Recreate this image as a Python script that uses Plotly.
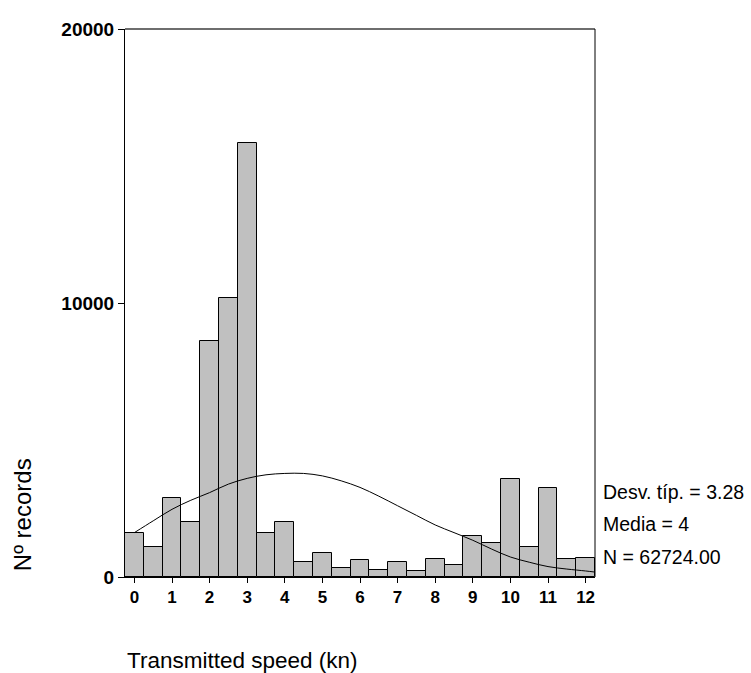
import plotly.graph_objects as go

# Histogram bins (centre, in knots) and counts
bin_centers = [0, 0.5, 1, 1.5, 2, 2.5, 3, 3.5, 4, 4.5, 5, 5.5, 6, 6.5, 7, 7.5,
               8, 8.5, 9, 9.5, 10, 10.5, 11, 11.5, 12]
counts = [1620, 1110, 2900, 1990, 8620, 10170, 15850, 1620, 2020, 530, 865, 320,
          610, 270, 560, 220, 650, 440, 1500, 1230, 3580, 1100, 3250, 650, 690]

# Fitted normal curve
curve_x = [0, 0.5, 1, 1.5, 2, 2.5, 3, 3.5, 4, 4.5, 5, 5.5, 6, 6.5, 7, 7.5, 8,
           8.5, 9, 9.5, 10, 10.5, 11, 11.5, 12, 12.25]
curve_y = [1620, 2050, 2470, 2800, 3080, 3390, 3600, 3730, 3780, 3780, 3690,
           3510, 3270, 2950, 2600, 2250, 1900, 1620, 1340, 1020, 730, 540, 380,
           290, 220, 180]

x_ticks = list(range(0, 13))
y_ticks = [0, 10000, 20000]
stats_text = ["Desv. típ. = 3.28", "Media = 4", "N = 62724.00"]
stats_y = [3102, 1934, 730]

fig = go.Figure()
fig.add_trace(go.Bar(x=bin_centers, y=counts, width=0.5,
                     marker=dict(color="#c0c0c0", line=dict(color="black", width=1)),
                     showlegend=False, hoverinfo="skip"))
fig.add_trace(go.Scatter(x=curve_x, y=curve_y, mode="lines",
                         line=dict(color="black", width=1, shape="spline"),
                         showlegend=False, hoverinfo="skip"))

font = "Arial, Liberation Sans, sans-serif"
fig.update_layout(
    width=751, height=673,
    margin=dict(l=125, r=156, t=29, b=96),
    paper_bgcolor="white", plot_bgcolor="white",
    bargap=0,
    font=dict(family=font, color="black"),
    xaxis=dict(range=[-0.25, 12.25], tickvals=x_ticks,
               ticktext=["<b>%d</b>" % v for v in x_ticks],
               showgrid=False, zeroline=False, showline=True, linecolor="black", linewidth=1,
               ticks="outside", ticklen=5, tickcolor="black",
               tickfont=dict(size=17, family=font, color="black")),
    yaxis=dict(range=[0, 20000], tickvals=y_ticks,
               ticktext=["<b>%d</b>" % v for v in y_ticks],
               showgrid=False, zeroline=False, showline=True, linecolor="black", linewidth=1,
               ticks="outside", ticklen=6, tickcolor="black",
               tickfont=dict(size=19, family=font, color="black")),
    shapes=[
        dict(type="line", xref="paper", yref="paper", x0=0, x1=1, y0=1, y1=1,
             line=dict(color="#6e6e6e", width=2)),
        dict(type="line", xref="paper", yref="paper", x0=1, x1=1, y0=0, y1=1,
             line=dict(color="black", width=1)),
    ],
)

for t, yv in zip(stats_text, stats_y):
    fig.add_annotation(text=t, x=1.013, xref="paper", y=yv, yref="y",
                       xanchor="left", yanchor="middle", showarrow=False,
                       font=dict(size=19.5, family=font, color="black"))

fig.add_annotation(text="Nº records", x=-0.219, xref="paper", y=0.113, yref="paper",
                   textangle=-90, showarrow=False, xanchor="center", yanchor="middle",
                   font=dict(size=24, family=font, color="black"))
fig.add_annotation(text="Transmitted speed (kn)", x=0.249, xref="paper", y=-0.1515, yref="paper",
                   showarrow=False, xanchor="center", yanchor="middle",
                   font=dict(size=22.5, family=font, color="black"))

fig.write_html("out.html")
